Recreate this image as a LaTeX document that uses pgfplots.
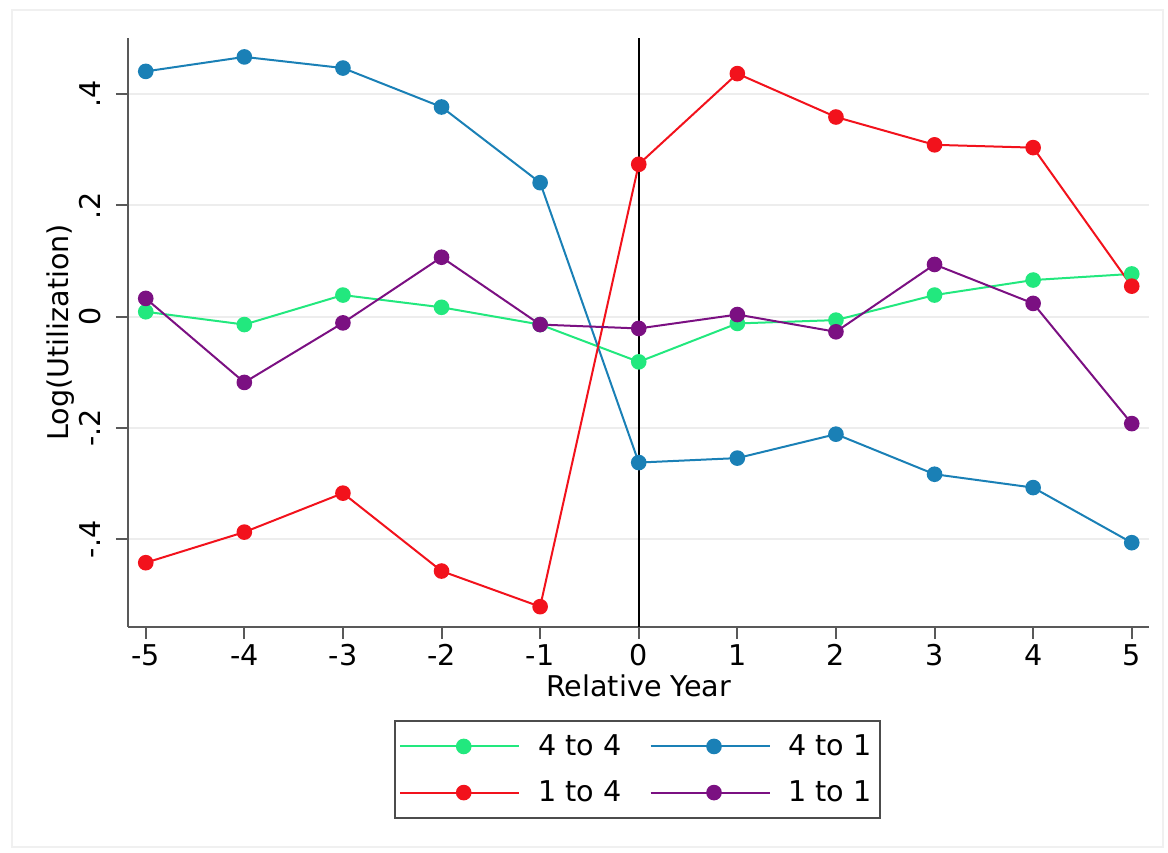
\documentclass[border=0pt]{standalone}
\usepackage{fontspec}
\setmainfont{DejaVu Sans}
\usepackage{pgfplots}
\pgfplotsset{compat=1.18}
\definecolor{cgreen}{HTML}{22E87E}
\definecolor{cblue}{HTML}{1A80B6}
\definecolor{cred}{HTML}{F2121C}
\definecolor{cpurple}{HTML}{7B1082}
\newcommand{\fs}{\fontsize{14.3}{17}\selectfont}
\begin{document}
\begin{tikzpicture}
\begin{axis}[
  scale only axis, width=510.75pt, height=294.35pt,
  xmin=-5.18, xmax=5.18, ymin=-0.557, ymax=0.501,
  axis x line*=bottom, axis y line*=left,
  axis line style={black!65, line width=1pt},
  xtick={-5,-4,-3,-2,-1,0,1,2,3,4,5},
  xticklabels={-5,-4,-3,-2,-1,0,1,2,3,4,5},
  ytick={-0.4,-0.2,0,0.2,0.4},
  yticklabels={-.4,-.2,0,.2,.4},
  tick align=outside, major tick length=6pt,
  tick style={black!65, line width=1pt},
  xticklabel style={font=\fs, anchor=base, inner sep=0pt, yshift=-13.15pt},
  yticklabel style={font=\fs, anchor=base, inner sep=0pt, xshift=-7.5pt, rotate=90},
  ymajorgrids, grid style={black!7, line width=1pt},
  xlabel={Relative Year}, ylabel={Log(Utilization)},
  xlabel style={font=\fs, at={(axis description cs:0.5,-0.1189)}, anchor=base, inner sep=0pt},
  ylabel style={font=\fs, at={(axis description cs:-0.0587,0.5)}, anchor=base, inner sep=0pt},
  legend columns=2, legend cell align=left,
  legend style={at={(axis description cs:0.4988,-0.2426)}, anchor=center,
    draw=black!70, line width=0.75pt, font=\fs,
    inner xsep=2pt, inner ysep=4.8pt, row sep=7.15pt,
    nodes={inner sep=2pt},
    /tikz/every odd column/.append style={column sep=7pt},
    /tikz/every even column/.append style={column sep=12pt}},
  legend image code/.code={\path (0pt,0pt) -- (4pt,0pt);
    \draw[mark repeat=2,mark phase=2,#1] plot coordinates {(4pt,0pt) (31.75pt,0pt) (59.5pt,0pt)};},
  every axis plot/.append style={line width=1pt, mark=*, mark size=3.4pt},
]
\addplot[color=cgreen, mark options={solid, fill=cgreen, draw=cgreen}] coordinates {
 (-5,0.009) (-4,-0.014) (-3,0.039) (-2,0.017) (-1,-0.014) (0,-0.081)
 (1,-0.012) (2,-0.006) (3,0.039) (4,0.066) (5,0.077)};
\addlegendentry{4 to 4}
\addplot[color=cblue, mark options={solid, fill=cblue, draw=cblue}] coordinates {
 (-5,0.441) (-4,0.467) (-3,0.447) (-2,0.377) (-1,0.241) (0,-0.262)
 (1,-0.254) (2,-0.211) (3,-0.283) (4,-0.307) (5,-0.406)};
\addlegendentry{4 to 1}
\addplot[color=cred, mark options={solid, fill=cred, draw=cred}] coordinates {
 (-5,-0.442) (-4,-0.387) (-3,-0.317) (-2,-0.457) (-1,-0.521) (0,0.274)
 (1,0.437) (2,0.359) (3,0.309) (4,0.304) (5,0.055)};
\addlegendentry{1 to 4}
\addplot[color=cpurple, mark options={solid, fill=cpurple, draw=cpurple}] coordinates {
 (-5,0.033) (-4,-0.118) (-3,-0.011) (-2,0.107) (-1,-0.014) (0,-0.021)
 (1,0.004) (2,-0.027) (3,0.094) (4,0.024) (5,-0.192)};
\addlegendentry{1 to 1}
\addplot[black, line width=1pt, mark=none, forget plot] coordinates {(0,-0.557) (0,0.501)};
\end{axis}
\draw[black!6, line width=1pt] (-58pt,-110.15pt) rectangle (517.5pt,308.35pt);
\pgfresetboundingbox
\useasboundingbox (-64pt,-112.65pt) rectangle (520pt,313.35pt);
\end{tikzpicture}
\end{document}
